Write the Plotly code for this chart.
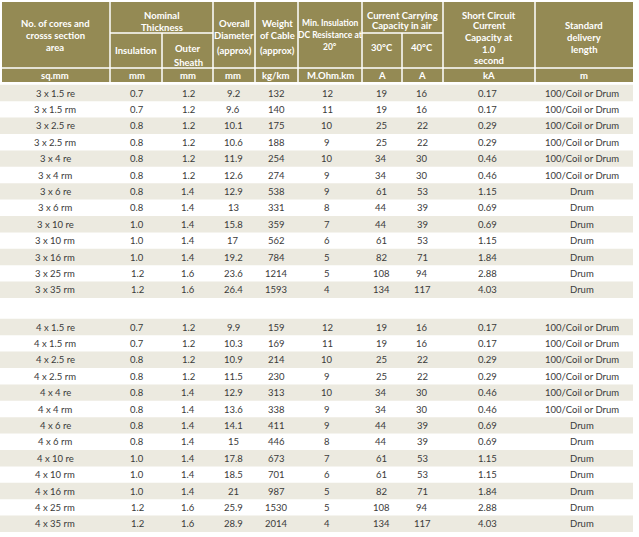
import plotly.graph_objects as go

# ---------------- data ----------------
sizes_3 = ["3 x 1.5 re", "3 x 1.5 rm", "3 x 2.5 re", "3 x 2.5 rm", "3 x 4 re", "3 x 4 rm",
           "3 x 6 re", "3 x 6 rm", "3 x 10 re", "3 x 10 rm", "3 x 16 rm", "3 x 25 rm", "3 x 35 rm"]
insulation_3 = ["0.7", "0.7", "0.8", "0.8", "0.8", "0.8", "0.8", "0.8", "1.0", "1.0", "1.0", "1.2", "1.2"]
sheath_3 = ["1.2", "1.2", "1.2", "1.2", "1.2", "1.2", "1.4", "1.4", "1.4", "1.4", "1.4", "1.6", "1.6"]
diameter_3 = ["9.2", "9.6", "10.1", "10.6", "11.9", "12.6", "12.9", "13", "15.8", "17", "19.2", "23.6", "26.4"]
weight_3 = ["132", "140", "175", "188", "254", "274", "538", "331", "359", "562", "784", "1214", "1593"]
resist_3 = ["12", "11", "10", "9", "10", "9", "9", "8", "7", "6", "5", "5", "4"]
amp30_3 = ["19", "19", "25", "25", "34", "34", "61", "44", "44", "61", "82", "108", "134"]
amp40_3 = ["16", "16", "22", "22", "30", "30", "53", "39", "39", "53", "71", "94", "117"]
ka_3 = ["0.17", "0.17", "0.29", "0.29", "0.46", "0.46", "1.15", "0.69", "0.69", "1.15", "1.84", "2.88", "4.03"]
delivery_3 = ["100/Coil or Drum"] * 6 + ["Drum"] * 7

sizes_4 = ["4 x 1.5 re", "4 x 1.5 rm", "4 x 2.5 re", "4 x 2.5 rm", "4 x 4 re", "4 x 4 rm",
           "4 x 6 re", "4 x 6 rm", "4 x 10 re", "4 x 10 rm", "4 x 16 rm", "4 x 25 rm", "4 x 35 rm"]
insulation_4 = ["0.7", "0.7", "0.8", "0.8", "0.8", "0.8", "0.8", "0.8", "1.0", "1.0", "1.0", "1.2", "1.2"]
sheath_4 = ["1.2", "1.2", "1.2", "1.2", "1.4", "1.4", "1.4", "1.4", "1.4", "1.4", "1.4", "1.6", "1.6"]
diameter_4 = ["9.9", "10.3", "10.9", "11.5", "12.9", "13.6", "14.1", "15", "17.8", "18.5", "21", "25.9", "28.9"]
weight_4 = ["159", "169", "214", "230", "313", "338", "411", "446", "673", "701", "987", "1530", "2014"]
resist_4 = ["12", "11", "10", "9", "10", "9", "9", "8", "7", "6", "5", "5", "4"]
amp30_4 = ["19", "19", "25", "25", "34", "34", "44", "44", "61", "61", "82", "108", "134"]
amp40_4 = ["16", "16", "22", "22", "30", "30", "39", "39", "53", "53", "71", "94", "117"]
ka_4 = ["0.17", "0.17", "0.29", "0.29", "0.46", "0.46", "0.69", "0.69", "1.15", "1.15", "1.84", "2.88", "4.03"]
delivery_4 = ["100/Coil or Drum"] * 6 + ["Drum"] * 7

units = ["sq.mm", "mm", "mm", "mm", "kg/km", "M.Ohm.km", "A", "A", "kA", "m"]

# ---------------- layout constants ----------------
W, H = 639, 537
HEAD_BG = "#948A54"
STRIPE = "#ECEAE0"
TXT = "#3a3a3a"
FONT = "Lato"

col_edges = [2, 110, 162, 213, 255, 298, 362, 402, 443, 535, 633]
col_text_x = [55, 137, 188, 233, 276, 327, 381, 422, 487, 582]
ROW_H = 16.4
block_starts = [93, 327]

fig = go.Figure()
shapes = []
ann = []

def rect(x0, y0, x1, y1, color):
    shapes.append(dict(type="rect", xref="x", yref="y", x0=x0, x1=x1, y0=y0, y1=y1,
                       fillcolor=color, line=dict(width=0), layer="below"))

def line(x0, y0, x1, y1, color="white", w=1.5):
    shapes.append(dict(type="line", xref="x", yref="y", x0=x0, x1=x1, y0=y0, y1=y1,
                       line=dict(color=color, width=w)))

def text(x, y, s, color=TXT, size=9.5, bold=False):
    if bold:
        s = "<b>" + s + "</b>"
    ann.append(dict(x=x, y=y, xref="x", yref="y", text=s, showarrow=False,
                    font=dict(family=FONT, size=size, color=color),
                    xanchor="center", yanchor="middle"))

# header background
rect(col_edges[0], 2, col_edges[-1], 82, HEAD_BG)
# header grid lines
for xe in [110, 213, 255, 298, 362, 443, 535]:
    line(xe, 2, xe, 82)
for xe in [162, 402]:
    line(xe, 33, xe, 82)
line(110, 33, 213, 33)
line(362, 33, 443, 33)
line(col_edges[0], 68, col_edges[-1], 68)

# header texts
hs = 9.5
for s, y in [("No. of cores and", 23), ("crosss section", 35), ("area", 47)]:
    text(55, y, s, "white", hs, True)
for s, y in [("Nominal", 15), ("Thickness", 27)]:
    text(162, y, s, "white", hs, True)
text(136, 50, "Insulation", "white", hs, True)
for s, y in [("Outer", 48), ("Sheath", 62)]:
    text(188, y, s, "white", hs, True)
for s, y in [("Overall", 23), ("Diameter", 35), ("(approx)", 50)]:
    text(234, y, s, "white", hs, True)
for s, y in [("Weight", 23), ("of Cable", 35), ("(approx)", 50)]:
    text(277, y, s, "white", hs, True)
for s, y in [("Min. Insulation", 23), ("DC Resistance at", 35), ("20°", 47)]:
    text(330, y, s, "white", 8.5, True)
for s, y in [("Current Carrying", 15), ("Capacity in air", 25)]:
    text(402, y, s, "white", hs, True)
text(382, 47, "30°C", "white", hs, True)
text(422, 47, "40°C", "white", hs, True)
for s, y in [("Short Circuit", 15), ("Current", 25), ("Capacity at", 37), ("1.0", 49), ("second", 60)]:
    text(489, y, s, "white", hs, True)
for s, y in [("Standard", 25), ("delivery", 37), ("length", 49)]:
    text(584, y, s, "white", hs, True)
unit_x = [55, 137, 188, 233, 276, 330, 382, 422, 489, 584]
for ux, u in zip(unit_x, units):
    text(ux, 75, u, "white", hs, True)

# data blocks
blocks = [
    (sizes_3, insulation_3, sheath_3, diameter_3, weight_3, resist_3, amp30_3, amp40_3, ka_3, delivery_3),
    (sizes_4, insulation_4, sheath_4, diameter_4, weight_4, resist_4, amp30_4, amp40_4, ka_4, delivery_4),
]
for start, cols in zip(block_starts, blocks):
    n = len(cols[0])
    for i in range(n):
        yc = start + i * ROW_H
        if i % 2 == 0:
            rect(0, yc - ROW_H / 2, col_edges[-1], yc + ROW_H / 2, STRIPE)
        for cx, col in zip(col_text_x, cols):
            text(cx, yc, col[i])

fig.update_layout(
    width=W, height=H,
    margin=dict(l=0, r=0, t=0, b=0),
    paper_bgcolor="white", plot_bgcolor="white",
    xaxis=dict(range=[0, W], visible=False, fixedrange=True),
    yaxis=dict(range=[H, 0], visible=False, fixedrange=True),
    shapes=shapes, annotations=ann, showlegend=False,
)
fig.write_html("out.html", config={"displayModeBar": False},
               post_script="document.body.style.margin='0';document.body.style.overflow='hidden';")
